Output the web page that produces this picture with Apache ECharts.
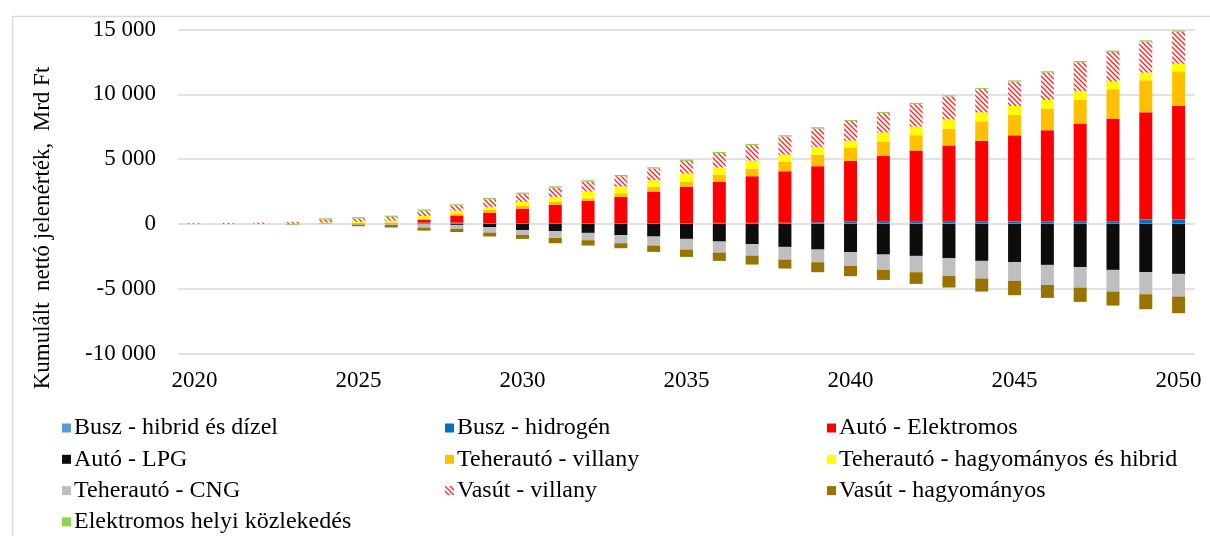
<!DOCTYPE html>
<html>
<head>
<meta charset="utf-8">
<script src="https://cdn.jsdelivr.net/npm/echarts@6/dist/echarts.min.js"></script>
<style>
  html, body { margin: 0; padding: 0; background: #fff; }
  #chart { width: 1210px; height: 536px; }
</style>
</head>
<body>
<div id="chart"></div>
<script>
const years = ['2020', '2021', '2022', '2023', '2024', '2025', '2026', '2027', '2028', '2029',
  '2030', '2031', '2032', '2033', '2034', '2035', '2036', '2037', '2038', '2039',
  '2040', '2041', '2042', '2043', '2044', '2045', '2046', '2047', '2048', '2049', '2050']

// Mrd Ft, one value per year
const buszHibrid = [0, 0, 0, 0, 0, 0, 0, 40, 40, 30, 30, 30, 30, 30, 30, 30, 30, 30, 30, 40,
  50, 50, 50, 50, 40, 30, 30, 30, 30, 30, 30]
const buszHidrogen = [0, 0, 0, 0, 0, 0, 0, 60, 60, 30, 30, 30, 30, 30, 30, 40, 50, 50, 60, 80,
  150, 160, 160, 160, 150, 150, 160, 160, 160, 300, 300]
const autoElektromos = [0, 0, 0, 0, 20, 20, 30, 200, 543, 814, 1123, 1432, 1740, 2023, 2435, 2811,
  3186, 3598, 3974, 4330, 4655, 5041, 5452, 5844, 6230, 6652, 7037, 7552, 7938, 8282, 8771]
const autoLpg = [0, 0, 0, 0, 0, 0, 0, -30, -77, -257, -489, -566, -694, -874, -977, -1157,
  -1363, -1569, -1775, -1980, -2186, -2366, -2469, -2650, -2855, -2958, -3164, -3344, -3549, -3729, -3858]
const teherVillany = [0, 0, 0, 10, 50, 60, 80, 103, 129, 206, 206, 206, 180, 283, 386, 385,
  515, 592, 720, 900, 1003, 1106, 1184, 1290, 1490, 1568, 1672, 1826, 2263, 2469, 2675]
const teherHagyomanyos = [0, 0, 0, 0, 40, 80, 150, 206, 257, 206, 309, 385, 515, 515, 488, 618,
  566, 617, 566, 591, 566, 694, 668, 720, 694, 695, 669, 694, 591, 592, 591]
const teherCng = [0, 0, 0, 0, 0, -60, -80, -257, -300, -412, -360, -514, -566, -618, -695, -823,
  -849, -874, -977, -978, -1055, -1183, -1260, -1360, -1363, -1440, -1543, -1569, -1672, -1698, -1749]
const vasutVillany = [50, 70, 100, 130, 220, 260, 280, 410, 411, 617, 617, 720, 771, 797, 901, 977,
  1106, 1183, 1389, 1415, 1517, 1492, 1723, 1775, 1800, 1877, 2109, 2212, 2290, 2392, 2469]
const vasutHagyomanyos = [0, 0, 0, 0, 0, -120, -200, -230, -250, -300, -308, -412, -412, -386, -488, -566,
  -643, -695, -694, -771, -797, -772, -901, -900, -1003, -1106, -1003, -1105, -1080, -1157, -1286]
const elektromosHelyi = [0, 0, 0, -70, 100, 100, 100, 100, 77, 103, 103, 103, 103, 103, 102, 103,
  103, 103, 103, 103, 78, 103, 103, 77, 77, 103, 103, 103, 102, 103, 103]

const yTicks = [-10000, -5000, 0, 5000, 10000, 15000]

const FONT = 'Liberation Serif'

// red diagonal hatch on white
function hatchPattern() {
  const c = document.createElement('canvas')
  c.width = 5
  c.height = 5
  const ctx = c.getContext('2d')
  ctx.fillStyle = '#fff'
  ctx.fillRect(0, 0, 5, 5)
  ctx.strokeStyle = '#ff2020'
  ctx.lineWidth = 1.3
  ctx.beginPath()
  ctx.moveTo(-1, -1); ctx.lineTo(6, 6)
  ctx.moveTo(-1, 4); ctx.lineTo(1, 6)
  ctx.moveTo(4, -1); ctx.lineTo(6, 1)
  ctx.stroke()
  return { image: c, repeat: 'repeat' }
}

const seriesDefs = [
  { name: 'Busz - hibrid és dízel', data: buszHibrid, color: '#5b9bd5' },
  { name: 'Busz - hidrogén', data: buszHidrogen, color: '#0070c0' },
  { name: 'Autó - Elektromos', data: autoElektromos, color: '#ff0000' },
  { name: 'Autó - LPG', data: autoLpg, color: '#0d0d0d' },
  { name: 'Teherautó - villany', data: teherVillany, color: '#ffc000' },
  { name: 'Teherautó - hagyományos és hibrid', data: teherHagyomanyos, color: '#ffff00' },
  { name: 'Teherautó - CNG', data: teherCng, color: '#bfbfbf' },
  { name: 'Vasút - villany', data: vasutVillany, color: hatchPattern() },
  { name: 'Vasút - hagyományos', data: vasutHagyomanyos, color: '#997300' },
  { name: 'Elektromos helyi közlekedés', data: elektromosHelyi, color: '#92d050' },
]

function fmt(v) {
  const s = String(Math.abs(v)).replace(/\B(?=(\d{3})+(?!\d))/g, ' ')
  return v < 0 ? '-' + s : s
}

const legendBase = {
  orient: 'vertical',
  top: 416,
  padding: 0,
  height: 130,
  itemWidth: 9,
  itemHeight: 9,
  itemGap: 7.3,
  icon: 'rect',
  selectedMode: false,
  textStyle: { fontFamily: FONT, fontSize: 24, color: '#000', lineHeight: 24, padding: [0, 0, 0, -2] },
}

const chart = echarts.init(document.getElementById('chart'))
chart.setOption({
  animation: false,
  textStyle: { fontFamily: FONT },
  graphic: [
    {
      type: 'rect',
      shape: { x: 12.5, y: 16.5, width: 1400, height: 800 },
      style: { fill: 'none', stroke: '#d9d9d9', lineWidth: 1.5 },
      silent: true,
    },
    {
      type: 'text',
      x: 43,
      y: 228,
      rotation: Math.PI / 2,
      style: {
        text: 'Kumulált  nettó jelenérték,  Mrd Ft',
        font: '23px "Liberation Serif"',
        fill: '#000',
        textAlign: 'center',
        textVerticalAlign: 'middle',
      },
    },
  ],
  legend: [
    { ...legendBase, left: 62, data: [seriesDefs[0].name, seriesDefs[3].name, seriesDefs[6].name, seriesDefs[9].name] },
    { ...legendBase, left: 445, data: [seriesDefs[1].name, seriesDefs[4].name, seriesDefs[7].name] },
    { ...legendBase, left: 827, data: [seriesDefs[2].name, seriesDefs[5].name, seriesDefs[8].name] },
  ],
  grid: { left: 178, top: 29.5, width: 1017, height: 324, containLabel: false },
  xAxis: {
    type: 'category',
    data: years,
    axisLine: { show: false, onZero: false },
    axisTick: { show: false },
    axisLabel: { interval: 4, color: '#000', fontFamily: FONT, fontSize: 23, margin: 16 },
  },
  yAxis: {
    type: 'value',
    min: yTicks[0],
    max: yTicks[yTicks.length - 1],
    interval: 5000,
    axisLine: { show: false },
    axisTick: { show: false },
    splitLine: { lineStyle: { color: '#d9d9d9', width: 1.5 } },
    axisLabel: { color: '#000', fontFamily: FONT, fontSize: 23, margin: 22, formatter: fmt },
  },
  series: seriesDefs.map(s => ({
    name: s.name,
    type: 'bar',
    stack: 'total',
    barWidth: 13,
    data: s.data,
    itemStyle: { color: s.color },
  })),
})
</script>
</body>
</html>
